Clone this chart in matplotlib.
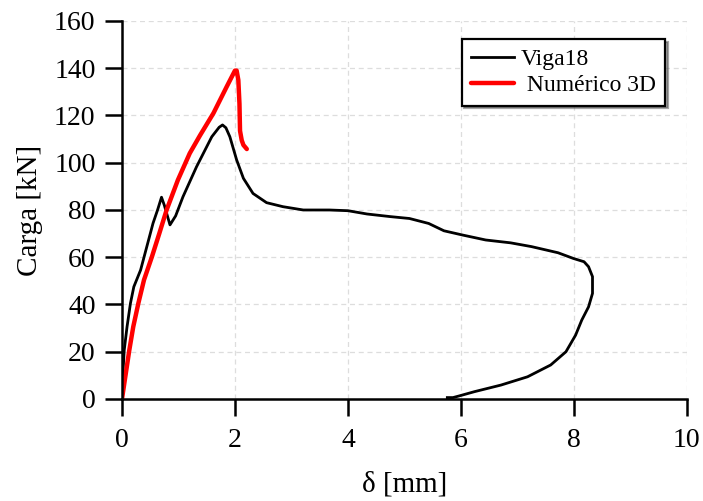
import matplotlib
matplotlib.use('Agg')
import matplotlib.pyplot as plt

# Viga18 (experimental)
viga_x = [0.0, 0.01, 0.04, 0.09, 0.15, 0.21, 0.33, 0.44, 0.55, 0.63, 0.70, 0.75, 0.85,
          0.95, 1.08, 1.32, 1.59, 1.72, 1.78, 1.84, 1.91, 2.03, 2.15, 2.32, 2.56, 2.85,
          3.21, 3.67, 4.00, 4.34, 4.75, 5.09, 5.43, 5.70, 6.03, 6.44, 6.88, 7.25, 7.72,
          7.99, 8.18, 8.26, 8.33, 8.33, 8.26, 8.14, 8.03, 7.86, 7.59, 7.18, 6.71, 6.24,
          5.97, 5.86, 5.76]
viga_y = [0.0, 8.0, 20.7, 30.6, 40.5, 47.5, 54.6, 64.5, 74.4, 80.0, 85.4, 82.0, 73.7,
          77.5, 85.6, 98.3, 111.0, 115.0, 116.0, 114.8, 111.0, 101.2, 93.4, 87.0, 83.1, 81.4,
          80.0, 80.0, 79.7, 78.3, 77.2, 76.4, 74.3, 71.2, 69.4, 67.3, 66.1, 64.5, 61.9,
          59.5, 58.1, 56.0, 51.8, 44.7, 39.0, 33.4, 27.0, 20.0, 14.4, 9.4, 5.9, 3.1,
          1.3, 0.6, 0.6]

# Numérico 3D
num_x = [0.0, 0.13, 0.20, 0.29, 0.39, 0.53, 0.66, 0.79, 0.99, 1.20, 1.38, 1.62, 1.85,
         2.00, 2.03, 2.06, 2.08, 2.09, 2.12, 2.15, 2.21]
num_y = [0.0, 20.7, 30.6, 40.5, 50.4, 60.2, 70.0, 80.0, 92.7, 104.0, 111.5, 121.0, 132.0,
         139.0, 139.0, 135.0, 125.0, 113.5, 109.5, 107.5, 105.8]

xticks = [0, 2, 4, 6, 8, 10]
yticks = [0, 20, 40, 60, 80, 100, 120, 140, 160]

plt.rcParams['font.family'] = ['Liberation Serif', 'DejaVu Serif']

fig = plt.figure(figsize=(7.03, 5.01), dpi=100)
ax = fig.add_axes([0.1735, 0.2036, 0.8035, 0.7545])

ax.plot(viga_x, viga_y, color='black', lw=2.0, label='Viga18',
        solid_joinstyle='round')
ax.plot(num_x, num_y, color='red', lw=3.2, label=' Numérico 3D',
        solid_joinstyle='round', solid_capstyle='round')

ax.set_xlim(0, 10)
ax.set_ylim(0, 160)
ax.set_xticks(xticks)
ax.set_yticks(yticks)
ax.grid(True, ls=(0, (4, 3)), color='#dddddd', lw=0.9)
ax.set_axisbelow(True)

for s in ['top', 'right']:
    ax.spines[s].set_visible(False)
for s in ['left', 'bottom']:
    ax.spines[s].set_linewidth(1.8)

ax.tick_params(axis='x', pad=9)
ax.tick_params(axis='y', pad=7)
ax.tick_params(direction='out', length=12, width=1.8, labelsize=20)
ax.set_xlabel('δ [mm]', fontsize=21, labelpad=13)
ax.set_ylabel('Carga [kN]', fontsize=21, labelpad=8)

leg = ax.legend(loc='upper right', bbox_to_anchor=(0.97, 0.965), fontsize=17,
                shadow=True, fancybox=False, framealpha=1, edgecolor='black',
                handlelength=1.8, handletextpad=0.3, borderpad=0.4, labelspacing=0.2,
                borderaxespad=0.2)
leg.get_frame().set_linewidth(1.6)

plt.savefig('out.png', dpi=100)
